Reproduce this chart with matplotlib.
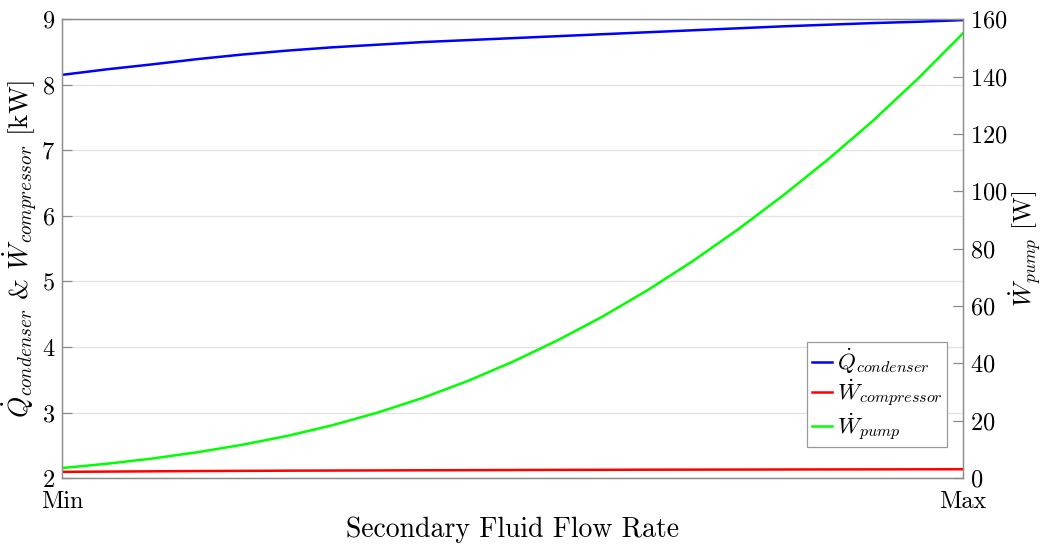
import matplotlib.pyplot as plt
import matplotlib as mpl

mpl.rcParams['font.family'] = 'cmr10'
mpl.rcParams['mathtext.fontset'] = 'cm'
mpl.rcParams['axes.formatter.use_mathtext'] = True
mpl.rcParams['axes.unicode_minus'] = False

# flow rate, from Min (0) to Max (1)
flow = [0.0, 0.05, 0.1, 0.15, 0.2, 0.25, 0.3, 0.35, 0.4, 0.45, 0.5,
        0.55, 0.6, 0.65, 0.7, 0.75, 0.8, 0.85, 0.9, 0.95, 1.0]
q_condenser = [8.15, 8.235, 8.31, 8.39, 8.46, 8.52, 8.57, 8.61, 8.65, 8.68, 8.71,
               8.74, 8.77, 8.80, 8.83, 8.86, 8.89, 8.915, 8.94, 8.96, 8.985]
w_compressor = [2.095, 2.099, 2.103, 2.107, 2.110, 2.113, 2.115, 2.117, 2.119, 2.121, 2.123,
                2.125, 2.126, 2.128, 2.129, 2.130, 2.131, 2.132, 2.133, 2.134, 2.135]
w_pump = [3.5, 5.0, 6.8, 9.0, 11.6, 14.7, 18.4, 22.8, 27.9, 33.8, 40.5,
          48.0, 56.3, 65.5, 75.6, 86.6, 98.4, 111.0, 124.5, 139.2, 155.0]

x_ticks = [0, 1]
x_ticklabels = ['Min', 'Max']
left_ticks = [2, 3, 4, 5, 6, 7, 8, 9]
right_ticks = [0, 20, 40, 60, 80, 100, 120, 140, 160]

fig = plt.figure(figsize=(10.42, 5.47), dpi=100)
ax = fig.add_axes([0.0595, 0.126, 0.8645, 0.839])
ax2 = ax.twinx()

l1, = ax.plot(flow, q_condenser, color=(0, 0, 1), lw=1.8,
              label=r'$\dot{Q}_{condenser}$')
l2, = ax.plot(flow, w_compressor, color=(1, 0, 0), lw=1.8,
              label=r'$\dot{W}_{compressor}$')
l3, = ax2.plot(flow, w_pump, color=(0, 1, 0), lw=1.8,
               label=r'$\dot{W}_{pump}$')

ax.set_xlim(0, 1)
ax.set_ylim(2, 9)
ax2.set_ylim(0, 160)
ax.set_xticks(x_ticks)
ax.set_xticklabels(x_ticklabels)
ax.set_yticks(left_ticks)
ax2.set_yticks(right_ticks)

ax.grid(axis='y', color='#e3e3e3', lw=0.9)
ax.set_axisbelow(True)

for a in (ax, ax2):
    for s in a.spines.values():
        s.set_color('#8c8c8c')
        s.set_linewidth(0.9)
    a.tick_params(direction='in', length=7, width=0.9, color='#8c8c8c',
                  labelsize=17.5, pad=5, top=False)
ax.tick_params(axis='x', length=0, pad=9)
ax2.tick_params(axis='y', labelright=True)

ax.set_xlabel('Secondary Fluid Flow Rate', fontsize=20, labelpad=3)
ax.set_ylabel(r'$\dot{Q}_{condenser}$ & $\dot{W}_{compressor}$ [kW]',
              fontsize=19.5, labelpad=1)
ax2.set_ylabel(r'$\dot{W}_{pump}$ [W]', fontsize=18)
ax2.yaxis.set_label_coords(1.049, 0.5)

leg = ax2.legend(handles=[l1, l2, l3], loc='lower right', fontsize=16.5,
                 fancybox=False, framealpha=1, edgecolor='#9a9a9a',
                 handlelength=0.9, handletextpad=0.2, borderpad=0.2,
                 labelspacing=0.1, borderaxespad=0,
                 bbox_to_anchor=(0.983, 0.0675))
leg.get_frame().set_linewidth(0.9)

plt.savefig('out.png', dpi=100)
